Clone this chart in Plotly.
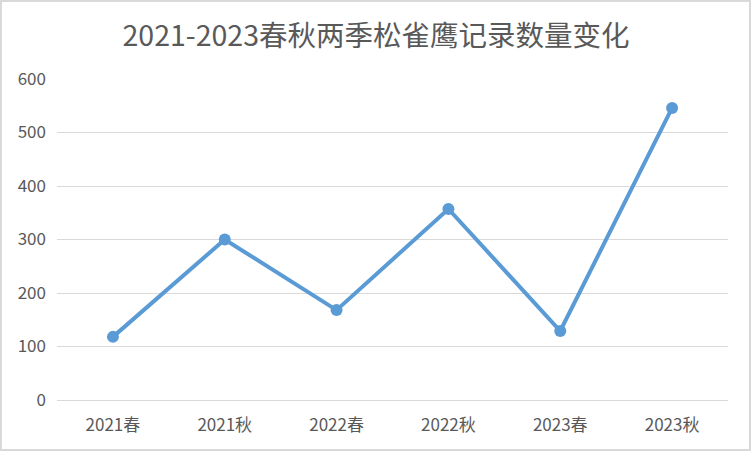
import plotly.graph_objects as go

categories = ["2021春", "2021秋", "2022春", "2022秋", "2023春", "2023秋"]
counts = [118, 300, 168, 357, 129, 546]
y_ticks = [0, 100, 200, 300, 400, 500, 600]

W, H = 752, 452
L, R, T, B = 57, 24, 79, 52
pw, ph = W - L - R, H - T - B

def px_x(px):
    return (px - L) / pw

def px_y(py):
    return (H - B - py) / ph

fig = go.Figure()
fig.add_trace(go.Scatter(
    x=categories, y=counts, mode="lines+markers",
    line=dict(color="#5B9BD5", width=4),
    marker=dict(color="#5B9BD5", size=12),
    cliponaxis=False, hoverinfo="x+y",
))

font_family = "Noto Sans CJK SC, Noto Sans, sans-serif"
fig.update_layout(
    width=W, height=H,
    margin=dict(l=L, r=R, t=T, b=B),
    paper_bgcolor="white", plot_bgcolor="white",
    showlegend=False,
    title=dict(text="2021-2023春秋两季松雀鹰记录数量变化", x=0.5, xref="container",
               xanchor="center", y=1 - 36 / H, yanchor="middle",
               font=dict(family=font_family, size=28.5, color="#595959")),
    xaxis=dict(type="category", range=[-0.5, 5.5], showgrid=False, showline=False,
               zeroline=False, ticks="", ticklabelstandoff=13,
               tickfont=dict(family=font_family, size=17, color="#595959")),
    yaxis=dict(range=[0, 600], tickvals=y_ticks, showgrid=True, gridcolor="#d9d9d9",
               gridwidth=1, zeroline=True, zerolinecolor="#d9d9d9", zerolinewidth=1,
               showline=False, ticks="", ticklabelstandoff=10,
               tickfont=dict(family=font_family, size=17, color="#595959")),
    shapes=[dict(type="rect", xref="paper", yref="paper",
                 x0=px_x(1), x1=px_x(750), y0=px_y(450), y1=px_y(1),
                 line=dict(color="#d9d9d9", width=2), layer="below")],
)

fig.write_html("out.html", config={"displayModeBar": False},
               post_script="document.body.style.margin='0';document.body.style.overflow='hidden';")
